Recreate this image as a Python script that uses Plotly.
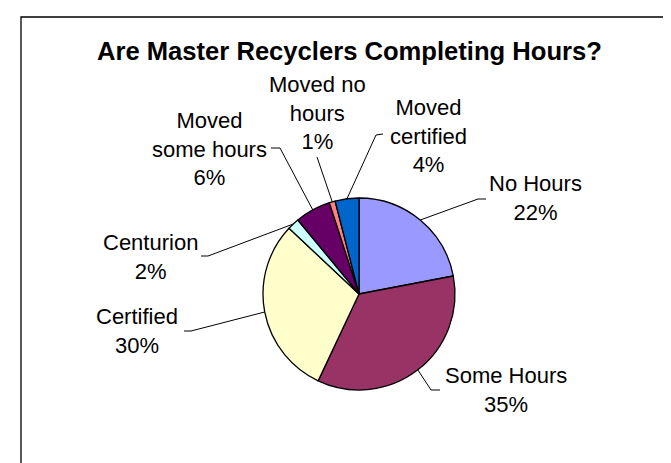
import math
import plotly.graph_objects as go

# ---- data ----
categories = ["No Hours", "Some Hours", "Certified", "Centurion",
              "Moved some hours", "Moved no hours", "Moved certified"]
label_text = ["No Hours", "Some Hours", "Certified", "Centurion",
              "Moved<br>some hours", "Moved no<br>hours", "Moved<br>certified"]
values = [22, 35, 30, 2, 6, 1, 4]
colors = ["#9999FF", "#993366", "#FFFFCC", "#CCFFFF", "#660066", "#FF8080", "#0066CC"]
title_text = "Are Master Recyclers Completing Hours?"

# ---- layout geometry (pixels) ----
W, H = 671, 463
CX, CY, R = 351, 286, 96
# label block centres and leader-line label-side points (layout positions)
label_pos = [(527, 190), (498, 382), (129, 323), (142, 249), (201, 141), (309, 105), (420, 128)]
leader_end = [[(470, 191), (478, 191)],
              [(423, 382), (432, 382)],
              [(183, 323), (176, 323)],
              [(200, 248), (193, 248)],
              [(272, 140), (263, 140)],
              [(310, 152), (309, 149)],
              [(368, 127), (375, 126)]]

FONT = "Liberation Sans, Arial, sans-serif"
total = sum(values)

fig = go.Figure()
fig.add_trace(go.Pie(
    labels=categories, values=values, sort=False, direction="clockwise", rotation=0,
    marker=dict(colors=colors, line=dict(color="black", width=1.3)),
    textinfo="none", hoverinfo="label+percent", showlegend=False,
    domain=dict(x=[(CX - R) / W, (CX + R) / W], y=[(H - CY - R) / H, (H - CY + R) / H]),
))

# leader lines: start at slice edge at its mid angle (from data)
cum = 0
for i, v in enumerate(values):
    mid = (cum + v / 2) / total * 2 * math.pi
    cum += v
    sx = CX + R * math.sin(mid)
    sy = CY - R * math.cos(mid)
    xs = [sx] + [p[0] for p in leader_end[i]]
    ys = [sy] + [p[1] for p in leader_end[i]]
    fig.add_trace(go.Scatter(x=xs, y=ys, mode="lines", line=dict(color="black", width=1),
                             hoverinfo="skip", showlegend=False))

annotations = []
for i, v in enumerate(values):
    pct = round(v / total * 100)
    annotations.append(dict(
        x=label_pos[i][0], y=label_pos[i][1], xref="x", yref="y",
        text=f"{label_text[i]}<br>{pct}%", showarrow=False,
        xanchor="center", yanchor="middle", align="center",
        font=dict(family=FONT, size=22, color="black")))
annotations.append(dict(
    x=341, y=43, xref="x", yref="y", text=f"<b>{title_text}</b>", showarrow=False,
    xanchor="center", yanchor="middle",
    font=dict(family=FONT, size=25.6, color="black")))

fig.update_layout(
    width=W, height=H, margin=dict(l=0, r=0, t=0, b=0),
    paper_bgcolor="white", plot_bgcolor="rgba(0,0,0,0)",
    xaxis=dict(range=[0, W], visible=False, fixedrange=True),
    yaxis=dict(range=[H, 0], visible=False, fixedrange=True),
    annotations=annotations,
    shapes=[dict(type="rect", xref="paper", yref="paper",
                 x0=13 / W, x1=1.05, y0=-0.05, y1=(H - 9) / H,
                 line=dict(color="black", width=1.3), fillcolor="rgba(0,0,0,0)")],
)

fig.write_html("out.html")
